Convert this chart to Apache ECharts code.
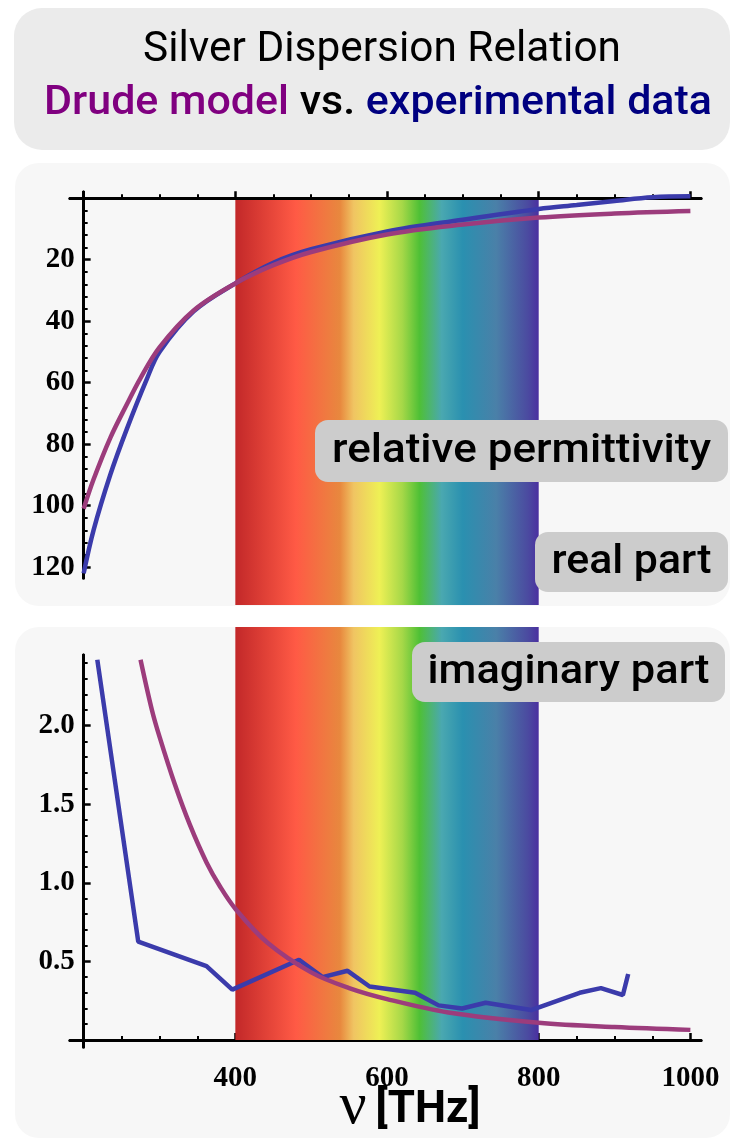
<!DOCTYPE html>
<html>
<head>
<meta charset="utf-8">
<title>Silver Dispersion Relation</title>
<script src="https://cdn.jsdelivr.net/npm/echarts@6/dist/echarts.min.js"></script>
<style>
  html, body { margin: 0; padding: 0; background: #ffffff; }
  #chart { width: 730px; height: 1141px; }
</style>
</head>
<body>
<div id="chart"></div>
<script>
// ---- data (frequency ν in THz) ----
// real part, plotted as −Re(ε)
const nuDrudeRe = [200, 213, 235, 257, 275, 300, 345, 400, 450, 500, 600, 700, 800, 900, 1000];
const drudeRe   = [101, 91.5, 78, 67, 58.5, 48.5, 36.5, 27.7, 21.8, 17.5, 11.8, 8.6, 6.3, 5.0, 4.2];
const nuExpRe   = [200, 213, 235, 257, 283, 300, 345, 400, 450, 500, 600, 700, 800, 850, 900, 950, 1000];
const expRe     = [122, 108, 90, 75, 59, 50, 36.8, 27.7, 21, 16.6, 10.8, 7.0, 3.5, 2.2, 0.9, -0.3, -0.6];
// imaginary part
const nuDrudeIm = [275, 290, 300, 320, 340, 362, 380, 400, 442, 500, 550, 600, 681, 800, 900, 1000];
const drudeIm   = [2.42, 2.1, 1.93, 1.63, 1.37, 1.13, 0.975, 0.835, 0.62, 0.43, 0.33, 0.26, 0.175, 0.11, 0.082, 0.064];
const nuExpIm   = [218, 272, 362, 396, 484, 515, 548, 577, 637, 668, 699, 730, 790, 854, 882, 911, 918];
const expIm     = [2.42, 0.625, 0.47, 0.32, 0.51, 0.40, 0.44, 0.34, 0.30, 0.22, 0.20, 0.237, 0.19, 0.30, 0.33, 0.286, 0.42];
// visible spectrum
const visibleBand = [400, 800];

// ---- ticks and labels ----
const xMajorTicks = [200, 400, 600, 800, 1000];
const xMinorTicks = [250, 300, 350, 450, 500, 550, 650, 700, 750, 850, 900, 950];
const xLabels     = [400, 600, 800, 1000];
const reMajorTicks = [0, 20, 40, 60, 80, 100, 120];
const reLabels     = [20, 40, 60, 80, 100, 120];
const imMajorTicks = [0, 0.5, 1.0, 1.5, 2.0];
const imLabels     = [0.5, 1.0, 1.5, 2.0];

const reMinorTicks = [];
for (let v = 4; v <= 120; v += 4) if (v % 20 !== 0) reMinorTicks.push(v);
const imMinorTicks = [];
for (let i = 1; i <= 24; i++) if (i % 5 !== 0) imMinorTicks.push(i / 10);

const zip = (xs, ys) => xs.map((x, i) => [x, ys[i]]);

// ---- layout ----
const X_MIN = 182, X_MAX = 1014;
const GRID_LEFT = 70, GRID_W = 631;
// the vertical axes sit at ν = 200
const yShift = -(200 - X_MIN) / (X_MAX - X_MIN) * GRID_W;

const DRUDE = '#9c3c7c';
const EXPER = '#3b3bab';
const SANS = "Roboto, 'DejaVu Sans', sans-serif";
const SERIF = "'Liberation Serif', 'DejaVu Serif', serif";

const measureCtx = document.createElement('canvas').getContext('2d');
function fitScale(text, size, family, weight, targetWidth) {
  measureCtx.font = `${weight} ${size}px ${family}`;
  return targetWidth / measureCtx.measureText(text).width;
}

const bandStops = [
  [0, '#c22829'], [0.2, '#ff5a45'], [0.345, '#e8883e'], [0.39, '#f0c462'],
  [0.475, '#eef055'], [0.55, '#a6d848'], [0.607, '#4fc036'], [0.68, '#4aa8b0'],
  [0.75, '#2a90b0'], [0.86, '#4a80a8'], [0.965, '#4b4aa0'], [1, '#4a2fa0']
];
const bandFill = () => new echarts.graphic.LinearGradient(0, 0, 1, 0,
  bandStops.map(s => ({ offset: s[0], color: s[1] })));

const axisLine = { lineStyle: { color: '#000', width: 3 } };
const tickLabel = { fontFamily: SERIF, fontWeight: 'bold', fontSize: 29, color: '#000' };

function xAxisPair(gridIndex, withLabels) {
  const base = { gridIndex, type: 'value', min: X_MIN, max: X_MAX, position: 'bottom',
    splitLine: { show: false } };
  return [
    Object.assign({}, base, {
      axisLine: Object.assign({ onZero: true }, axisLine),
      axisTick: { inside: true, length: 7, lineStyle: { color: '#000', width: 2.5 }, customValues: xMajorTicks },
      axisLabel: withLabels
        ? Object.assign({ customValues: xLabels, margin: 17, formatter: v => String(v) }, tickLabel)
        : { show: false }
    }),
    Object.assign({}, base, {
      axisLine: Object.assign({ onZero: true }, axisLine),
      axisTick: { inside: true, length: 4, lineStyle: { color: '#000', width: 2 }, customValues: xMinorTicks },
      axisLabel: { show: false }
    })
  ];
}

function yAxisPair(gridIndex, opts) {
  const base = { gridIndex, type: 'value', position: 'left', offset: yShift,
    min: opts.min, max: opts.max, inverse: !!opts.inverse, splitLine: { show: false } };
  return [
    Object.assign({}, base, {
      axisLine: Object.assign({ show: true, onZero: false }, axisLine),
      axisTick: { show: true, inside: true, length: 7, lineStyle: { color: '#000', width: 2.5 }, customValues: opts.major },
      axisLabel: Object.assign({ customValues: opts.labels, margin: 9, formatter: opts.formatter }, tickLabel)
    }),
    Object.assign({}, base, {
      axisLine: Object.assign({ show: true, onZero: false }, axisLine),
      axisTick: { show: true, inside: true, length: 4, lineStyle: { color: '#000', width: 2 }, customValues: opts.minor },
      axisLabel: { show: false }
    })
  ];
}

const bandAxisX = gridIndex => ({ gridIndex, type: 'value', min: X_MIN, max: X_MAX, show: false });
const bandAxisY = gridIndex => ({ gridIndex, type: 'value', min: 0, max: 1, show: false });

function bandSeries(xi, yi) {
  return {
    type: 'line', xAxisIndex: xi, yAxisIndex: yi, silent: true, symbol: 'none',
    lineStyle: { opacity: 0 }, data: [[visibleBand[0], 0.5]], z: 1,
    markArea: { silent: true, itemStyle: { color: bandFill() },
      data: [[{ xAxis: visibleBand[0] }, { xAxis: visibleBand[1] }]] }
  };
}

function curve(xi, yi, data, color, smooth, z) {
  return { type: 'line', xAxisIndex: xi, yAxisIndex: yi, data, smooth,
    symbol: 'none', lineStyle: { color, width: 4.5 }, z, clip: true, animation: false };
}

// ---- decorations: panels, tags, headings ----
function tag(x, y, w, h, text, textW) {
  const s = fitScale(text, 40, SANS, 500, textW);
  return {
    type: 'group', z: 100, children: [
      { type: 'rect', z: 100, shape: { x, y, width: w, height: h, r: 13 }, style: { fill: '#cccccc' } },
      { type: 'text', z: 101, x: x + w / 2, y: y + h / 2 + 1, scaleX: s,
        style: { text, fontFamily: SANS, fontWeight: 500, fontSize: 40, fill: '#000', align: 'center', verticalAlign: 'middle' } }
    ]
  };
}

const line1 = 'Silver Dispersion Relation';
const line2 = 'Drude model vs. experimental data';
const s1 = fitScale(line1, 42, SANS, 400, 478);
const s2 = fitScale(line2, 41, SANS, 500, 668);
const sUnit = fitScale('[THz]', 44, SANS, 'bold', 105);

const graphics = [
  { type: 'rect', z: -10, shape: { x: 14, y: 8, width: 716, height: 142, r: 28 }, style: { fill: '#ebebeb' } },
  { type: 'rect', z: -10, shape: { x: 15, y: 163, width: 715, height: 443, r: 24 }, style: { fill: '#f7f7f7' } },
  { type: 'rect', z: -10, shape: { x: 15, y: 627, width: 715, height: 511, r: 24 }, style: { fill: '#f7f7f7' } },
  { type: 'text', z: 10, x: 382, y: 50, scaleX: s1,
    style: { text: line1, fontFamily: SANS, fontWeight: 400, fontSize: 42, fill: '#000', align: 'center', verticalAlign: 'middle' } },
  { type: 'text', z: 10, x: 378, y: 104, scaleX: s2,
    style: { text: '{a|Drude model} {b|vs.} {c|experimental data}', fontFamily: SANS, fontWeight: 500, fontSize: 41,
      fill: '#000', align: 'center', verticalAlign: 'middle',
      rich: {
        a: { fill: '#800080', color: '#800080', fontFamily: SANS, fontWeight: 500, fontSize: 41 },
        b: { fill: '#000000', color: '#000000', fontFamily: SANS, fontWeight: 500, fontSize: 41 },
        c: { fill: '#000080', color: '#000080', fontFamily: SANS, fontWeight: 500, fontSize: 41 }
      } } },
  tag(315, 420, 413, 62, 'relative permittivity', 379),
  tag(535, 532, 193, 60, 'real part', 160),
  tag(412, 642, 313, 60, 'imaginary part', 282),
  { type: 'text', z: 10, x: 353, y: 1107,
    style: { text: 'ν', fontFamily: SERIF, fontSize: 60, fill: '#000', align: 'center', verticalAlign: 'middle' } },
  { type: 'text', z: 10, x: 428, y: 1111, scaleX: sUnit,
    style: { text: '[THz]', fontFamily: SANS, fontWeight: 'bold', fontSize: 44, fill: '#000', align: 'center', verticalAlign: 'middle' } }
];

const option = {
  animation: false,
  backgroundColor: '#ffffff',
  grid: [
    { left: GRID_LEFT, width: GRID_W, top: 200, height: 405 },   // spectrum band, real panel
    { left: GRID_LEFT, width: GRID_W, top: 192, height: 386 },   // real part
    { left: GRID_LEFT, width: GRID_W, top: 627, height: 413 },   // spectrum band, imaginary panel
    { left: GRID_LEFT, width: GRID_W, top: 655, height: 392 }    // imaginary part
  ],
  xAxis: [
    bandAxisX(0),
    ...xAxisPair(1, false),
    bandAxisX(2),
    ...xAxisPair(3, true)
  ],
  yAxis: [
    bandAxisY(0),
    ...yAxisPair(1, { min: -2, max: 123.5, inverse: true, major: reMajorTicks, minor: reMinorTicks,
      labels: reLabels, formatter: v => String(v) }),
    bandAxisY(2),
    ...yAxisPair(3, { min: -0.045, max: 2.45, major: imMajorTicks, minor: imMinorTicks,
      labels: imLabels, formatter: v => Number(v).toFixed(1) })
  ],
  graphic: { elements: graphics },
  series: [
    bandSeries(0, 0),
    bandSeries(3, 3),
    curve(1, 1, zip(nuExpRe, expRe), EXPER, 0.35, 3),
    curve(1, 1, zip(nuDrudeRe, drudeRe), DRUDE, 0.35, 4),
    curve(4, 4, zip(nuExpIm, expIm), EXPER, false, 3),
    curve(4, 4, zip(nuDrudeIm, drudeIm), DRUDE, 0.35, 4)
  ]
};

const chart = echarts.init(document.getElementById('chart'));
chart.setOption(option);
</script>
</body>
</html>
